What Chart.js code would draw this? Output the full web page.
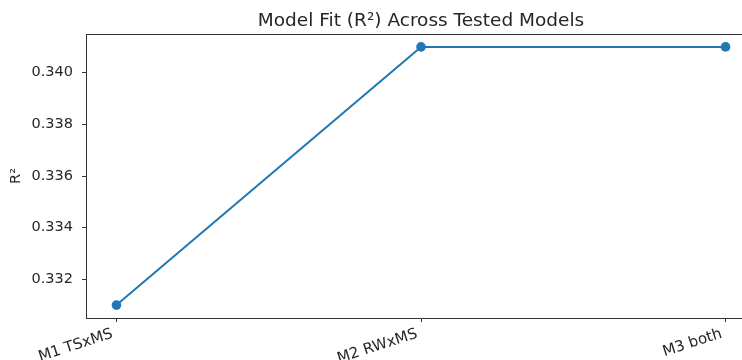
<!DOCTYPE html>
<html>
<head>
<meta charset="utf-8">
<script src="https://cdn.jsdelivr.net/npm/chart.js@4/dist/chart.umd.min.js"></script>
<style>
  html, body { margin: 0; padding: 0; background: #fff; overflow: hidden; }
  #wrap { width: 742px; height: 360px; overflow: hidden; position: relative; }
  canvas { display: block; }
</style>
</head>
<body>
<div id="wrap"><canvas id="c" width="800" height="360"></canvas></div>
<script>
// Models compared and their R² values
const models = ['M1 TSxMS', 'M2 RWxMS', 'M3 both'];
const r2Values = [0.331, 0.341, 0.341];
const yTicks = [0.332, 0.334, 0.336, 0.338, 0.340];
const chartTitle = 'Model Fit (R²) Across Tested Models';

const FONT = "'DejaVu Sans', sans-serif";
const INK = '#262626';
const LINE = '#1f77b4';

// Title centred over the plot area, plus the top spine of the axes frame
const frame = {
  id: 'frame',
  afterDraw(chart) {
    const { ctx, chartArea: a } = chart;
    ctx.save();
    ctx.strokeStyle = '#333';
    ctx.lineWidth = 1;
    ctx.beginPath();
    ctx.moveTo(a.left, Math.round(a.top) + 0.5);
    ctx.lineTo(a.right, Math.round(a.top) + 0.5);
    ctx.stroke();
    ctx.fillStyle = INK;
    ctx.font = "18.5px 'DejaVu Sans', sans-serif";
    ctx.textAlign = 'center';
    ctx.textBaseline = 'alphabetic';
    ctx.fillText(chartTitle, (a.left + a.right) / 2, 26);
    ctx.restore();
  }
};

new Chart(document.getElementById('c'), {
  type: 'line',
  data: {
    datasets: [{
      data: models.map((m, i) => ({ x: i, y: r2Values[i] })),
      borderColor: LINE,
      backgroundColor: LINE,
      borderWidth: 2,
      pointRadius: 4.8,
      pointHoverRadius: 4.8,
      pointBorderWidth: 0,
      tension: 0
    }]
  },
  options: {
    responsive: false,
    animation: false,
    layout: { padding: { left: 0, right: 44, top: 34, bottom: 0 } },
    plugins: {
      legend: { display: false },
      tooltip: { enabled: false },
      title: { display: false }
    },
    scales: {
      x: {
        type: 'linear',
        min: -0.1,
        max: 2.1,
        afterBuildTicks: s => { s.ticks = models.map((m, i) => ({ value: i })); },
        afterFit: s => { s.height = 42; },
        ticks: {
          autoSkip: false,
          minRotation: 18,
          maxRotation: 18,
          padding: 3,
          labelOffset: -4,
          color: INK,
          font: { family: FONT, size: 15 },
          callback: v => models[v]
        },
        grid: { drawOnChartArea: false, drawTicks: true, tickLength: 4, color: '#333' },
        border: { display: true, color: '#333', width: 1 }
      },
      y: {
        min: 0.3305,
        max: 0.3415,
        afterBuildTicks: s => { s.ticks = yTicks.map(v => ({ value: v })); },
        afterFit: s => { s.width = 86; },
        ticks: {
          padding: 9,
          color: INK,
          font: { family: FONT, size: 14.5 },
          callback: v => v.toFixed(3)
        },
        title: {
          display: true,
          text: 'R²',
          color: INK,
          font: { family: FONT, size: 14.5 },
          padding: { top: 8, bottom: 0 }
        },
        grid: { drawOnChartArea: false, drawTicks: true, tickLength: 4, color: '#333' },
        border: { display: true, color: '#333', width: 1 }
      }
    }
  },
  plugins: [frame]
});
</script>
</body>
</html>
